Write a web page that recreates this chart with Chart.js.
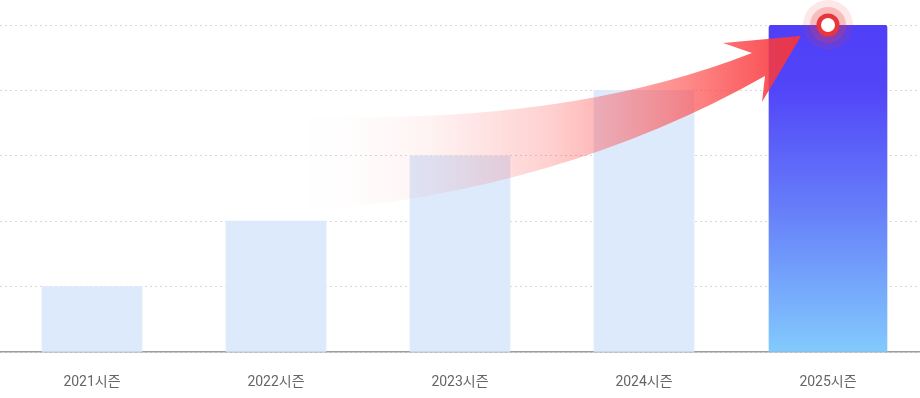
<!DOCTYPE html>
<html>
<head>
<meta charset="utf-8">
<script src="https://cdn.jsdelivr.net/npm/chart.js@4"></script>
<style>
  html, body { margin: 0; padding: 0; background: #fff; }
  #wrap { width: 920px; height: 398px; }
</style>
</head>
<body>
<div id="wrap"><canvas id="chart"></canvas></div>
<script>
const seasons = ["2021시즌", "2022시즌", "2023시즌", "2024시즌", "2025시즌"]
const pastValues = [1, 2, 3, 4, null]
const currentValues = [null, null, null, null, 5]
const yMax = 5

// 2025 bar gradient
function currentGradient(ctx) {
  const area = ctx.chart.chartArea
  if (!area) return "#5040f8"
  const g = ctx.chart.ctx.createLinearGradient(0, area.top, 0, area.bottom)
  g.addColorStop(0, "#4f3ff8")
  g.addColorStop(0.2, "#5246f8")
  g.addColorStop(0.55, "#657cf9")
  g.addColorStop(1, "#82cafd")
  return g
}

// curved arrow + dot on the last bar
const arrowPlugin = {
  id: "arrow",
  afterDatasetsDraw(chart) {
    const c = chart.ctx
    const xs = chart.scales.x
    const ys = chart.scales.y
    const px = xs.getPixelForValue(4)
    const py = ys.getPixelForValue(currentValues[4])
    const tx = px - 27, ty = py + 11   // arrow tip

    c.save()
    const g = c.createLinearGradient(tx - 500, 0, tx, 0)
    g.addColorStop(0, "rgba(255,90,90,0)")
    g.addColorStop(0.1, "rgba(255,90,90,0.01)")
    g.addColorStop(0.25, "rgba(255,90,90,0.07)")
    g.addColorStop(0.5, "rgba(255,80,80,0.27)")
    g.addColorStop(0.75, "rgba(255,75,75,0.62)")
    g.addColorStop(1, "rgba(246,52,58,0.95)")
    c.fillStyle = g
    c.beginPath()
    c.moveTo(tx - 511, ty + 79)
    c.quadraticCurveTo(tx - 241, ty + 92, tx - 49, ty + 17)
    c.lineTo(tx - 78, ty + 7)
    c.lineTo(tx, ty)
    c.lineTo(tx - 39, ty + 66)
    c.lineTo(tx - 36, ty + 40)
    c.quadraticCurveTo(tx - 241, ty + 156, tx - 501, ty + 176)
    c.closePath()
    c.fill()

    // dot with halo
    c.fillStyle = "rgba(240,60,60,0.12)"
    c.beginPath(); c.arc(px, py, 25, 0, Math.PI * 2); c.fill()
    c.fillStyle = "rgba(240,60,60,0.25)"
    c.beginPath(); c.arc(px, py, 18, 0, Math.PI * 2); c.fill()
    c.fillStyle = "#e8343a"
    c.beginPath(); c.arc(px, py, 11.5, 0, Math.PI * 2); c.fill()
    c.fillStyle = "#ffffff"
    c.beginPath(); c.arc(px, py, 7, 0, Math.PI * 2); c.fill()
    c.restore()
  }
}

new Chart("chart", {
  type: "bar",
  data: {
    labels: seasons,
    datasets: [
      {
        data: pastValues,
        backgroundColor: "#dceafc",
        barThickness: 100,
        borderSkipped: "start",
      },
      {
        data: currentValues,
        backgroundColor: currentGradient,
        barThickness: 118,
        borderRadius: { topLeft: 3, topRight: 3 },
        borderSkipped: "start",
      }
    ]
  },
  options: {
    responsive: true,
    maintainAspectRatio: false,
    animation: false,
    layout: {
      padding: { top: 25, left: 0, right: 0, bottom: 0 }
    },
    plugins: {
      legend: { display: false },
      tooltip: { enabled: false }
    },
    datasets: {
      bar: { grouped: false, skipNull: true }
    },
    scales: {
      x: {
        offset: true,
        grid: { display: false, drawTicks: false },
        border: { display: true, color: "#9b9ba6", width: 1.5 },
        ticks: {
          color: "#666666",
          font: { family: "Roboto, 'Noto Sans CJK KR', sans-serif", size: 14 },
          padding: 22,
        },
        afterFit(scale) { scale.height = 46 }
      },
      y: {
        min: 0,
        max: yMax,
        ticks: { display: false, stepSize: 1 },
        grid: { color: "#d8d8d8", drawTicks: false, lineWidth: 1 },
        border: { display: false, dash: [2, 3] },
        afterFit(scale) { scale.width = 0 }
      }
    }
  },
  plugins: [arrowPlugin]
})
</script>
</body>
</html>
